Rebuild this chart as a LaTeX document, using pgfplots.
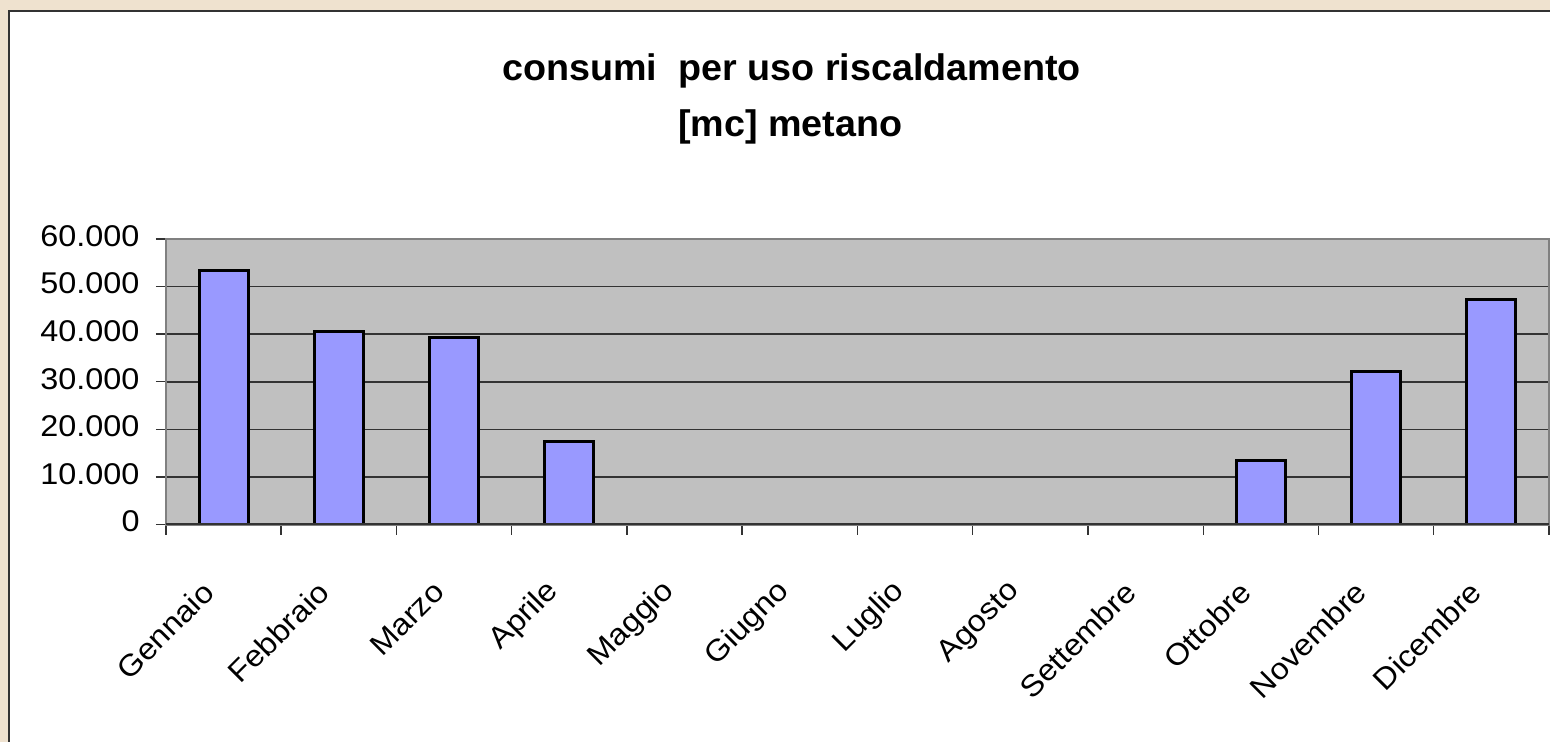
\documentclass[border=0pt]{standalone}
\usepackage{fontspec}
\setmainfont{Liberation Sans}
\newfontfamily\titlefont[FakeStretch=1.02]{Liberation Sans}
\newfontfamily\tickfont[FakeStretch=1.08]{Liberation Sans}
\usepackage{pgfplots}
\pgfplotsset{compat=1.18}
\definecolor{bgbeige}{HTML}{EFE2CF}
\definecolor{plotgray}{HTML}{C0C0C0}
\definecolor{barblue}{HTML}{9999FF}
\definecolor{gridc}{HTML}{333333}
\definecolor{bordergray}{HTML}{808080}
\begin{document}
\begin{tikzpicture}[x=0.5pt,y=0.5pt]
\fill[bgbeige] (0,0) rectangle (1551,742);
\fill[white] (9,0) rectangle (1551,731);
\draw[gridc, line width=1pt] (9,0) -- (9,731) -- (1551,731);
\node[font=\titlefont\bfseries\fontsize{18.5}{22}\selectfont, anchor=base, inner sep=0pt] at (792,661) {consumi\ \ per uso riscaldamento};
\node[font=\titlefont\bfseries\fontsize{18.5}{22}\selectfont, anchor=base, inner sep=0pt] at (791,605) {[mc] metano};
\begin{axis}[
  at={(83pt,108.5pt)}, anchor=south west, scale only axis,
  width=692pt, height=143pt,
  xmin=-0.5, xmax=11.5, ymin=0, ymax=60000,
  ybar, bar width=24.5pt,
  xtick={0,...,11},
  xticklabels={Gennaio,Febbraio,Marzo,Aprile,Maggio,Giugno,Luglio,Agosto,Settembre,Ottobre,Novembre,Dicembre},
  minor xtick={-0.5,0.5,...,11.5},
  ytick={0,10000,...,60000},
  minor ytick={0,10000,...,60000},
  yticklabels={0,10.000,20.000,30.000,40.000,50.000,60.000},
  scaled y ticks=false,
  major tick length=0pt, minor tick length=5pt,
  tick align=outside, tick pos=left,
  tick style={gridc, line width=0.7pt},
  axis line style={bordergray, line width=1.2pt},
  axis background/.style={fill=plotgray},
  ymajorgrids, grid style={gridc, line width=0.8pt},
  yticklabel style={font=\tickfont\fontsize{15}{15}\selectfont, anchor=east, inner sep=0pt, xshift=-13pt, yshift=1.5pt},
  xticklabel style={font=\tickfont\fontsize{15}{15}\selectfont, anchor=east, inner sep=0pt, xshift=-7.5pt, yshift=-31pt, rotate=45},
]
\addplot[fill=barblue, draw=black, line width=1.5pt] coordinates {
  (0,53300) (1,40500) (2,39300) (3,17500) (9,13400) (10,32100) (11,47200)
};
\draw[gridc, line width=1.2pt] (axis cs:-0.5,0) -- (axis cs:11.5,0);
\end{axis}
\useasboundingbox (0,0) rectangle (1551,742);
\end{tikzpicture}
\end{document}
